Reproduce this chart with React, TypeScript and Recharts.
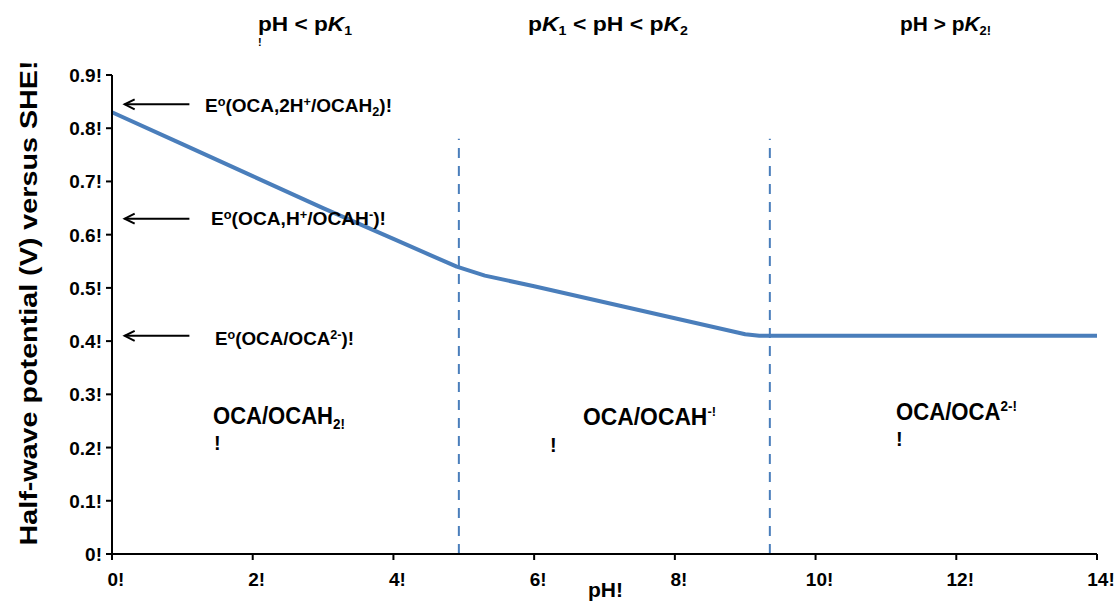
import { LineChart, Line, XAxis, YAxis, ReferenceLine } from 'recharts'

// pH vs half-wave potential (V vs SHE)
const phValues = [0, 1, 2, 3, 4, 4.5, 4.9, 5.3, 6, 7, 8, 9, 9.2, 14]
const potentials = [0.83, 0.77, 0.71, 0.65, 0.592, 0.563, 0.54, 0.523, 0.503, 0.473, 0.443, 0.413, 0.41, 0.41]

const xTicks = [0, 2, 4, 6, 8, 10, 12, 14]
const yTicks = [0, 0.1, 0.2, 0.3, 0.4, 0.5, 0.6, 0.7, 0.8, 0.9]

// pK1 / pK2 dashed markers
const pkValues = [4.93, 9.35]
const pkTop = 0.78

// E° arrows
const arrowLevels = [0.845, 0.63, 0.41]
const arrowFromPh = 1.1
const arrowToPh = 0.18

const data = phValues.map((ph, i) => ({ ph, v: potentials[i] }))

const FONT = '"Liberation Sans", Arial, sans-serif'
const BLUE = '#4A7EBB'

const XTick = (props: any) => {
  const { x, y, payload } = props
  return (
    <text x={x + 4} y={y + 24} textAnchor="middle" fontFamily={FONT} fontWeight="bold" fontSize={19} fill="#000">
      {`${payload.value}!`}
    </text>
  )
}

const YTick = (props: any) => {
  const { x, y, payload } = props
  const label = payload.value === 0 ? '0!' : `${Number(payload.value).toFixed(1)}!`
  return (
    <text x={x - 2} y={y + 7} textAnchor="end" fontFamily={FONT} fontWeight="bold" fontSize={19} fill="#000">
      {label}
    </text>
  )
}

const Arrow = (props: any) => {
  const { x1, y1, x2, y2 } = props
  return (
    <g>
      <line x1={x1} y1={y1} x2={x2} y2={y2} stroke="#000" strokeWidth={2} />
      <path d={`M${x2 + 10},${y2 - 5} L${x2},${y2} L${x2 + 10},${y2 + 5}`} fill="none" stroke="#000" strokeWidth={2} />
    </g>
  )
}

const Overlay = () => {
  const t = { fontFamily: FONT, fontWeight: 'bold' as const, fill: '#000' }
  const sq = 'spacingAndGlyphs'
  return (
    <svg width={1115} height={602} style={{ position: 'absolute', left: 0, top: 0, pointerEvents: 'none' }}>
      {/* headers */}
      <text {...t} x={258} y={31} fontSize={21} textLength={94} lengthAdjust={sq}>
        pH &lt; p<tspan fontStyle="italic">K</tspan>
        <tspan fontSize={13} dy={4}>1</tspan>
      </text>
      <text {...t} x={258} y={46} fontSize={11}>!</text>
      <text {...t} x={528} y={31} fontSize={21} textLength={160} lengthAdjust={sq}>
        p<tspan fontStyle="italic">K</tspan>
        <tspan fontSize={13} dy={4}>1</tspan>
        <tspan dy={-4}> &lt; pH &lt; p</tspan>
        <tspan fontStyle="italic">K</tspan>
        <tspan fontSize={13} dy={4}>2</tspan>
      </text>
      <text {...t} x={900} y={31} fontSize={21} textLength={91} lengthAdjust={sq}>
        pH &gt; p<tspan fontStyle="italic">K</tspan>
        <tspan fontSize={13} dy={4}>2!</tspan>
      </text>

      {/* E° labels */}
      <text {...t} x={205} y={112} fontSize={18} textLength={187} lengthAdjust={sq}>
        E<tspan fontSize={12} dy={-6}>o</tspan>
        <tspan dy={6}>(OCA,2H</tspan>
        <tspan fontSize={12} dy={-6}>+</tspan>
        <tspan dy={6}>/OCAH</tspan>
        <tspan fontSize={12} dy={4}>2</tspan>
        <tspan dy={-4}>)!</tspan>
      </text>
      <text {...t} x={211} y={225} fontSize={18} textLength={175} lengthAdjust={sq}>
        E<tspan fontSize={12} dy={-6}>o</tspan>
        <tspan dy={6}>(OCA,H</tspan>
        <tspan fontSize={12} dy={-6}>+</tspan>
        <tspan dy={6}>/OCAH</tspan>
        <tspan fontSize={12} dy={-6}>-</tspan>
        <tspan dy={6}>)!</tspan>
      </text>
      <text {...t} x={215} y={345} fontSize={18} textLength={139} lengthAdjust={sq}>
        E<tspan fontSize={12} dy={-6}>o</tspan>
        <tspan dy={6}>(OCA/OCA</tspan>
        <tspan fontSize={12} dy={-6}>2-</tspan>
        <tspan dy={6}>)!</tspan>
      </text>

      {/* region labels */}
      <text {...t} x={213} y={424} fontSize={23} textLength={132} lengthAdjust={sq}>
        OCA/OCAH<tspan fontSize={14} dy={5}>2!</tspan>
      </text>
      <text {...t} x={214} y={450} fontSize={20}>!</text>
      <text {...t} x={583} y={425} fontSize={23} textLength={133} lengthAdjust={sq}>
        OCA/OCAH<tspan fontSize={13} dy={-9}>-!</tspan>
      </text>
      <text {...t} x={550} y={452} fontSize={20}>!</text>
      <text {...t} x={896} y={420} fontSize={23} textLength={121} lengthAdjust={sq}>
        OCA/OCA<tspan fontSize={14} dy={-9}>2-!</tspan>
      </text>
      <text {...t} x={896} y={446} fontSize={20}>!</text>

      {/* axis titles */}
      <text {...t} x={588} y={597} fontSize={21}>pH!</text>
      <text {...t} transform="rotate(-90)" x={-303} y={37} fontSize={24} textAnchor="middle" textLength={485} lengthAdjust={sq}>
        Half-wave potential  (V) versus SHE!
      </text>
    </svg>
  )
}

export default function App() {
  return (
    <div style={{ position: 'relative', width: 1115, height: 602, background: '#fff' }}>
      <style>{'body{margin:0}'}</style>
      <LineChart width={1115} height={602} data={data} margin={{ top: 75, right: 18, bottom: 18, left: 50 }}>
        <XAxis
          dataKey="ph"
          type="number"
          domain={[0, 14]}
          ticks={xTicks}
          height={30}
          axisLine={{ stroke: '#000', strokeWidth: 2 }}
          tickLine={{ stroke: '#000', strokeWidth: 2 }}
          tickSize={6}
          tick={<XTick />}
          interval={0}
        />
        <YAxis
          type="number"
          domain={[0, 0.9]}
          ticks={yTicks}
          width={62}
          axisLine={{ stroke: '#000', strokeWidth: 2 }}
          tickLine={{ stroke: '#000', strokeWidth: 2 }}
          tickSize={6}
          tick={<YTick />}
          interval={0}
        />
        {pkValues.map((pk) => (
          <ReferenceLine
            key={pk}
            segment={[{ x: pk, y: 0 }, { x: pk, y: pkTop }]}
            stroke={BLUE}
            strokeWidth={2}
            strokeDasharray="10 8"
          />
        ))}
        {arrowLevels.map((lvl) => (
          <ReferenceLine
            key={lvl}
            segment={[{ x: arrowFromPh, y: lvl }, { x: arrowToPh, y: lvl }]}
            shape={<Arrow />}
          />
        ))}
        <Line
          type="linear"
          dataKey="v"
          stroke={BLUE}
          strokeWidth={4}
          dot={false}
          strokeLinejoin="round"
          isAnimationActive={false}
        />
      </LineChart>
      <Overlay />
    </div>
  )
}
